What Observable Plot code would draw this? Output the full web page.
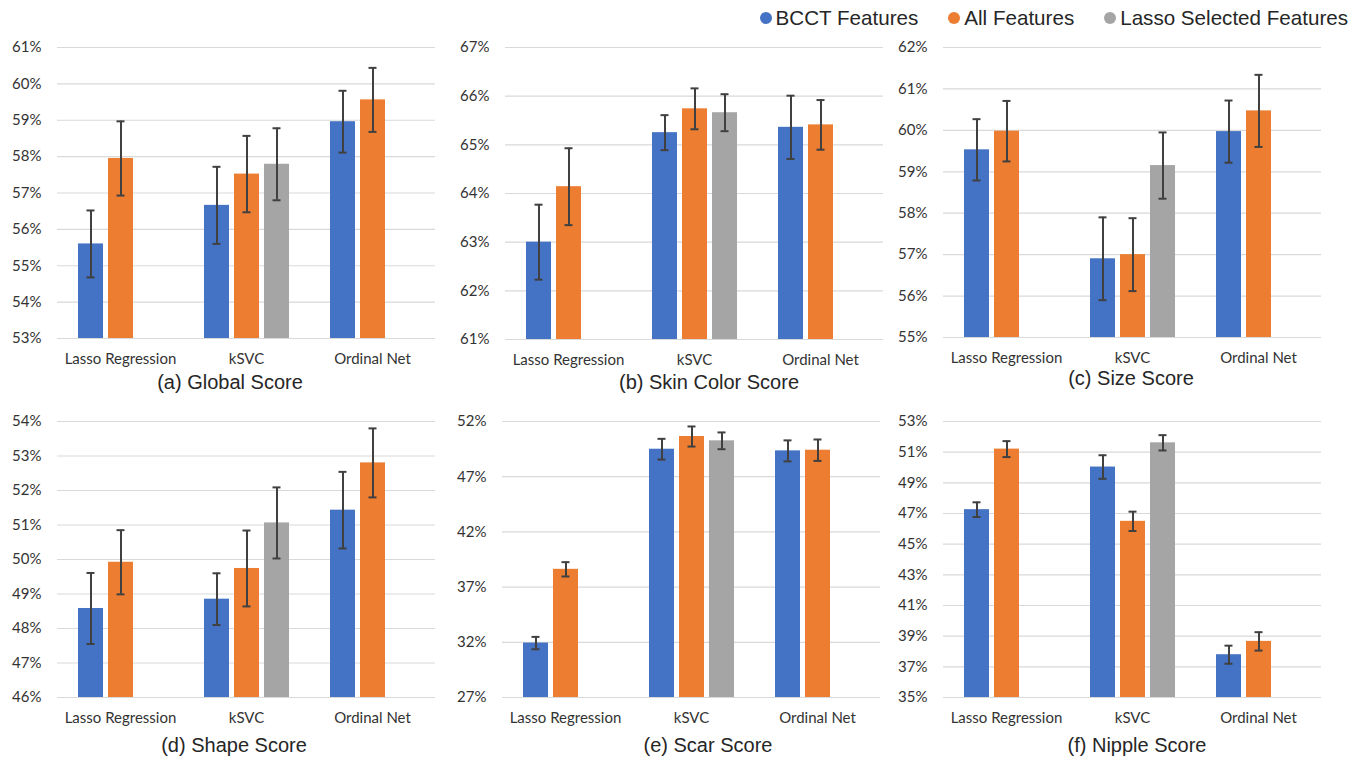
<!DOCTYPE html>
<html>
<head>
<meta charset="utf-8">
<script src="https://cdn.jsdelivr.net/npm/d3@7"></script>
<script src="https://cdn.jsdelivr.net/npm/@observablehq/plot@0.6"></script>
<style>
  html, body { margin: 0; padding: 0; background: #fff; }
  #root { position: relative; width: 1368px; height: 762px; overflow: hidden; background: #fff; }
  .panel { position: absolute; }
  .title { position: absolute; transform: translate(-50%, -50%); font-family: "Liberation Sans", Arial, sans-serif; font-size: 20px; color: #262626; white-space: nowrap; }
  #legend { position: absolute; top: 6px; right: 20px; display: flex; align-items: center; font-family: "Liberation Sans", Arial, sans-serif; font-size: 20.6px; color: #262626; white-space: nowrap; }
  #legend .item { display: flex; align-items: center; margin-left: 30px; }
  #legend .dot { width: 12px; height: 12px; border-radius: 50%; margin-right: 4px; }
</style>
</head>
<body>
<div id="root"></div>
<script>
// ---- data ----
const methods = ["Lasso Regression", "kSVC", "Ordinal Net"];
const seriesNames = ["BCCT Features", "All Features", "Lasso Selected Features"];
const seriesColors = ["#4472C4", "#ED7D31", "#A5A5A5"];

// mean accuracy (%) per method [BCCT, All, Lasso]; null = not reported
const globalMean = [[55.60, 57.95, null], [56.66, 57.52, 57.79], [58.96, 59.56, null]];
const globalErr  = [[0.92, 1.02, null], [1.06, 1.05, 0.99], [0.85, 0.88, null]];
const skinMean   = [[63.00, 64.14, null], [65.25, 65.74, 65.66], [65.36, 65.41, null]];
const skinErr    = [[0.77, 0.79, null], [0.36, 0.42, 0.38], [0.65, 0.51, null]];
const sizeMean   = [[59.53, 59.98, null], [56.90, 57.00, 59.15], [59.97, 60.47, null]];
const sizeErr    = [[0.74, 0.73, null], [1.00, 0.88, 0.80], [0.75, 0.87, null]];
const shapeMean  = [[48.58, 49.92, null], [48.85, 49.74, 51.06], [51.43, 52.80, null]];
const shapeErr   = [[1.03, 0.93, null], [0.75, 1.10, 1.03], [1.11, 1.00, null]];
const scarMean   = [[31.93, 38.61, null], [49.49, 50.64, 50.25], [49.34, 49.40, null]];
const scarErr    = [[0.56, 0.65, null], [0.94, 0.91, 0.76], [0.95, 0.97, null]];
const nippleMean = [[47.25, 51.20, null], [50.03, 46.49, 51.61], [37.79, 38.66, null]];
const nippleErr  = [[0.48, 0.52, null], [0.77, 0.63, 0.50], [0.59, 0.60, null]];

const globalTicks = [53, 54, 55, 56, 57, 58, 59, 60, 61];
const skinTicks   = [61, 62, 63, 64, 65, 66, 67];
const sizeTicks   = [55, 56, 57, 58, 59, 60, 61, 62];
const shapeTicks  = [46, 47, 48, 49, 50, 51, 52, 53, 54];
const scarTicks   = [27, 32, 37, 42, 47, 52];
const nippleTicks = [35, 37, 39, 41, 43, 45, 47, 49, 51, 53];

const titles = ["(a) Global Score", "(b) Skin Color Score", "(c) Size Score",
                "(d) Shape Score", "(e) Scar Score", "(f) Nipple Score"];

// ---- layout ----
const panels = [
  {mean: globalMean, err: globalErr, ticks: globalTicks, title: titles[0], left: 0,   top: 30,  w: 450, ml: 56, mr: 15, ph: 291, tx: 230,  ty: 382},
  {mean: skinMean,   err: skinErr,   ticks: skinTicks,   title: titles[1], left: 450, top: 30,  w: 450, ml: 54, mr: 17, ph: 292, tx: 709,  ty: 382},
  {mean: sizeMean,   err: sizeErr,   ticks: sizeTicks,   title: titles[2], left: 890, top: 30,  w: 478, ml: 52, mr: 46, ph: 290, tx: 1131, ty: 378},
  {mean: shapeMean,  err: shapeErr,  ticks: shapeTicks,  title: titles[3], left: 0,   top: 404, w: 450, ml: 56, mr: 15, ph: 276, tx: 234,  ty: 745},
  {mean: scarMean,   err: scarErr,   ticks: scarTicks,   title: titles[4], left: 450, top: 404, w: 450, ml: 52, mr: 20, ph: 276, tx: 708,  ty: 745},
  {mean: nippleMean, err: nippleErr, ticks: nippleTicks, title: titles[5], left: 890, top: 404, w: 478, ml: 52, mr: 46, ph: 276, tx: 1137, ty: 745}
];

const root = document.getElementById("root");

// legend
const legend = document.createElement("div");
legend.id = "legend";
seriesNames.forEach((s, i) => {
  const item = document.createElement("div");
  item.className = "item";
  const dot = document.createElement("span");
  dot.className = "dot";
  dot.style.background = seriesColors[i];
  const txt = document.createElement("span");
  txt.textContent = s;
  item.appendChild(dot); item.appendChild(txt);
  legend.appendChild(item);
});
root.appendChild(legend);

function makePanel(cfg) {
  const rows = [];
  methods.forEach((m, i) => seriesNames.forEach((s, j) => {
    const v = cfg.mean[i][j];
    if (v != null) rows.push({method: m, series: s, mean: v, lo: v - cfg.err[i][j], hi: v + cfg.err[i][j]});
  }));
  const y0 = cfg.ticks[0], y1 = cfg.ticks[cfg.ticks.length - 1];
  const mt = 17, mb = 40;
  const chart = Plot.plot({
    width: cfg.w,
    height: mt + cfg.ph + mb,
    marginLeft: cfg.ml, marginRight: cfg.mr, marginTop: mt, marginBottom: mb,
    style: {fontFamily: "Lato, 'Open Sans', sans-serif", fontSize: "15px", color: "#333333", background: "transparent", overflow: "visible"},
    fx: {domain: methods, padding: 0, label: null, tickSize: 0, tickPadding: 15, axis: "bottom"},
    x: {domain: seriesNames, paddingInner: 0.175, paddingOuter: 0.65, axis: null},
    y: {domain: [y0, y1], ticks: cfg.ticks, tickFormat: d => d + "%", tickSize: 0, tickPadding: 16, label: null},
    color: {domain: seriesNames, range: seriesColors},
    marks: [
      Plot.ruleY(cfg.ticks, {stroke: "#d9d9d9", strokeWidth: 1.2}),
      Plot.barY(rows, {fx: "method", x: "series", y1: d => y0, y2: "mean", fill: "series"}),
      Plot.ruleX(rows, {fx: "method", x: "series", y1: "lo", y2: "hi", stroke: "#404040", strokeWidth: 2}),
      Plot.tickY(rows, {fx: "method", x: "series", y: "lo", stroke: "#404040", strokeWidth: 2, insetLeft: 8.5, insetRight: 8.5}),
      Plot.tickY(rows, {fx: "method", x: "series", y: "hi", stroke: "#404040", strokeWidth: 2, insetLeft: 8.5, insetRight: 8.5})
    ]
  });
  const wrap = document.createElement("div");
  wrap.className = "panel";
  wrap.style.left = cfg.left + "px";
  wrap.style.top = cfg.top + "px";
  wrap.appendChild(chart);
  root.appendChild(wrap);

  const t = document.createElement("div");
  t.className = "title";
  t.style.left = cfg.tx + "px";
  t.style.top = cfg.ty + "px";
  t.textContent = cfg.title;
  root.appendChild(t);
}

panels.forEach(makePanel);
</script>
</body>
</html>
